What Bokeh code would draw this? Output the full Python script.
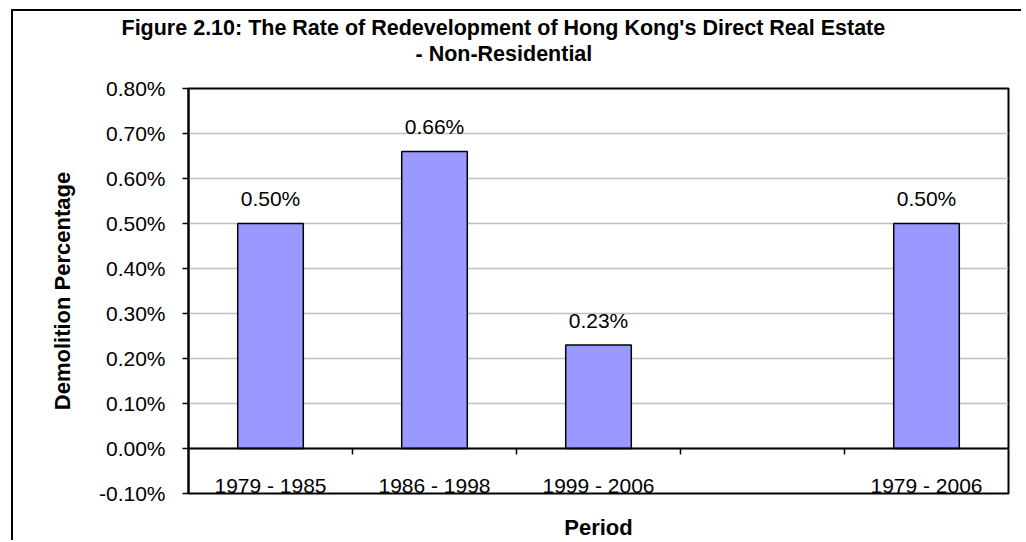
from bokeh.plotting import figure
from bokeh.models import (ColumnDataSource, FixedTicker, PrintfTickFormatter, Span,
                          Title, Range1d)
from bokeh.core.properties import value
from bokeh.embed import file_html
from bokeh.resources import INLINE

# ---------------- data ----------------
categories = ["1979 - 1985", "1986 - 1998", "1999 - 2006", "", "1979 - 2006"]
demolition_pct = [0.50, 0.66, 0.23, None, 0.50]
y_ticks = [-0.10, 0.00, 0.10, 0.20, 0.30, 0.40, 0.50, 0.60, 0.70, 0.80]
title_line1 = "Figure  2.10: The Rate of Redevelopment of Hong Kong's Direct  Real Estate"
title_line2 = "- Non-Residential"
y_title = "Demolition Percentage"
x_title = "Period"

# ---------------- layout ----------------
FONT = "Liberation Sans"
OX, OY = 13, 11                      # canvas origin on the page (after outer border)
W, H = 1010, 531
FL, FT = 188 - OX, 88 - OY           # frame left / top in canvas px
FR, FB = W - (1008 - OX), H - (493 - OY)
X0, X1 = 0.5, len(categories) + 0.5
Y0, Y1 = y_ticks[0], y_ticks[-1]
FH = H - FT - FB

xs = list(range(1, len(categories) + 1))
bar_x = [x for x, v in zip(xs, demolition_pct) if v is not None]
bar_v = [v for v in demolition_pct if v is not None]
bars = ColumnDataSource(dict(x=bar_x, top=bar_v,
                             lab=[f"{v:.2f}%" for v in bar_v]))
cats = ColumnDataSource(dict(x=xs, lab=categories, y=[Y0] * len(xs)))

p = figure(width=W, height=H, output_backend="svg", toolbar_location=None,
           x_range=Range1d(X0, X1), y_range=Range1d(Y0, Y1),
           min_border_left=FL, min_border_top=FT,
           min_border_right=FR, min_border_bottom=FB, title=None)
p.margin = (OY - 2, 0, 0, OX - 2)
p.styles = {"border-top": "2px solid black", "border-left": "2px solid black"}

p.background_fill_color = "white"
p.border_fill_color = "white"
p.outline_line_color = "black"
p.outline_line_width = 2
p.xgrid.visible = False
p.ygrid.ticker = FixedTicker(ticks=y_ticks)
p.ygrid.grid_line_color = "#c0c0c0"
p.ygrid.grid_line_width = 1.5

ax = p.yaxis[0]
ax.ticker = FixedTicker(ticks=y_ticks)
ax.formatter = PrintfTickFormatter(format="%.2f%%")
ax.axis_line_color = "black"
ax.axis_line_width = 2
ax.major_tick_line_color = "black"
ax.major_tick_line_width = 1.5
ax.major_tick_out = 6
ax.major_tick_in = 0
ax.minor_tick_line_color = None
ax.major_label_standoff = 17
ax.major_label_text_font = FONT
ax.major_label_text_font_size = "21px"
ax.major_label_text_color = "black"
ax.axis_label = y_title
ax.axis_label_text_font = FONT
ax.axis_label_text_font_size = "22px"
ax.axis_label_text_font_style = "bold"
ax.axis_label_text_color = "black"
ax.axis_label_standoff = 21

bx = p.xaxis[0]
bx.ticker = FixedTicker(ticks=[])
bx.axis_line_color = None
bx.major_tick_line_color = None
bx.minor_tick_line_color = None
bx.major_tick_out = 0
bx.major_tick_in = 0
bx.major_label_standoff = 0
bx.axis_label = x_title
bx.axis_label_text_font = FONT
bx.axis_label_text_font_size = "22px"
bx.axis_label_text_font_style = "bold"
bx.axis_label_text_color = "black"
bx.axis_label_standoff = 21

# bars
p.vbar(x="x", top="top", bottom=0, width=0.4, source=bars,
       fill_color="#9999FF", line_color="black", line_width=1.5)

# category axis at zero
p.add_layout(Span(location=0, dimension="width", line_color="black", line_width=2))
bounds = [i + 0.5 for i in xs[:-1]]
tick_len = 6 * (Y1 - Y0) / FH
p.segment(x0=bounds, y0=[0] * len(bounds), x1=bounds, y1=[-tick_len] * len(bounds),
          line_color="black", line_width=1.5)

# category labels along the bottom of the plot area
p.text(x="x", y="y", text="lab", source=cats, text_font=value(FONT),
       text_font_size="21px", text_align="center", text_baseline="middle",
       y_offset=-8, text_color="black")

# data labels
p.text(x="x", y="top", text="lab", source=bars, text_font=value(FONT),
       text_font_size="21px", text_align="center", text_baseline="middle",
       y_offset=-25, text_color="black")

# titles (first added sits nearest the plot)
p.add_layout(Title(text=" ", text_font_size="14px", standoff=5,
                   text_line_height=1.0), "above")
p.add_layout(Title(text=title_line2, text_font=FONT, text_font_size="21.5px",
                   text_font_style="bold", align="left", offset=227, standoff=0,
                   text_line_height=0.8, text_color="black"), "above")
p.add_layout(Title(text=title_line1, text_font=FONT, text_font_size="21.5px",
                   text_font_style="bold", align="left", offset=-67, standoff=0,
                   text_line_height=0.8, text_color="black"), "above")

open("out.html", "w").write(file_html(p, INLINE))
